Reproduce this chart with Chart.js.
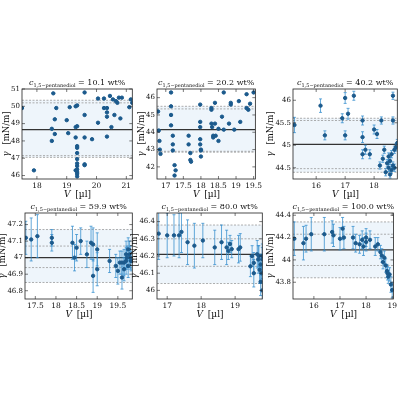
<!DOCTYPE html><html><head><meta charset="utf-8">
<script src="https://cdn.jsdelivr.net/npm/chart.js@4"></script>
<style>body{margin:0;background:#fff;width:400px;height:400px;position:relative;overflow:hidden}canvas{position:absolute}</style>
</head><body>
<script>
const titles=["10.1 wt%","20.2 wt%","40.2 wt%","59.9 wt%","80.0 wt%","100.0 wt%"];
const p1x=[17.5,17.9,18.5,18.5,18.55,18.6,18.6,18.65,19.0,19.05,19.1,19.3,19.35,19.3,19.35,19.3,19.35,19.35,19.35,19.35,19.35,19.35,19.35,19.35,19.35,19.35,19.3,19.6,19.6,19.6,19.6,19.6,19.85,20.05,20.05,20.25,20.25,20.35,20.35,20.35,20.35,20.45,20.5,20.55,20.6,20.65,20.7,20.75,20.8,20.85,21.1,21.15,21.2];
const p1y=[49.9,46.3,48.7,48.0,50.75,48.4,49.25,49.9,49.2,48.45,49.95,50.0,50.05,48.8,48.85,48.2,47.7,47.6,47.3,46.95,46.7,46.55,46.35,46.2,46.1,45.95,46.3,50.8,49.5,48.2,46.65,46.6,48.1,49.05,50.45,50.45,49.9,49.65,49.4,49.9,48.25,50.6,48.8,50.4,49.5,50.3,50.2,50.5,49.3,50.5,49.95,50.4,50.2];
const p2x=[16.78,16.8,16.82,16.83,16.85,17.15,17.15,17.15,17.15,17.2,17.2,17.2,17.25,17.28,17.25,17.65,17.65,17.7,17.7,17.72,17.98,17.98,17.98,17.98,17.98,18.0,18.0,18.0,18.3,18.3,18.3,18.32,18.35,18.35,18.4,18.4,18.42,18.5,18.5,18.6,18.65,18.65,18.8,18.85,18.85,18.95,19.08,19.12,19.3,19.3,19.35,19.4,19.5];
const p2y=[45.2,44.1,43.5,43.0,42.75,46.3,45.5,45.0,44.4,43.8,43.3,42.95,42.1,41.8,41.5,43.8,43.3,42.8,42.4,42.3,45.6,44.6,44.3,43.6,43.3,43.0,42.6,42.95,45.4,45.3,44.5,44.3,43.8,43.7,45.7,44.5,43.8,43.5,44.2,44.9,46.3,44.15,44.5,45.7,45.6,44.15,45.8,44.6,46.2,45.4,45.3,45.65,46.3];
const p3x=[15.25,16.15,16.3,16.9,17.0,17.0,17.1,17.3,17.6,17.6,17.6,17.7,17.85,18.0,18.1,18.2,18.25,18.3,18.35,18.4,18.45,18.5,18.5,18.55,18.55,18.6,18.6,18.65,18.65,18.65,18.7,18.7,18.75,18.8];
const p3y=[45.45,45.88,45.22,45.6,46.05,45.22,45.7,46.1,45.55,45.18,44.8,44.9,44.8,45.35,45.25,44.55,45.55,44.7,44.9,44.4,44.6,44.75,44.5,44.35,44.65,44.45,44.8,44.55,46.1,45.55,44.9,44.5,44.95,45.05];
const p3e=[0.17,0.15,0.1,0.1,0.12,0.1,0.12,0.1,0.1,0.12,0.1,0.1,0.1,0.1,0.1,0.08,0.08,0.08,0.08,0.08,0.08,0.08,0.08,0.08,0.08,0.08,0.08,0.08,0.08,0.08,0.08,0.08,0.08,0.08];
const p4x=[17.27,17.4,17.55,17.9,17.9,18.4,18.45,18.5,18.6,18.75,18.85,18.9,18.9,19.0,19.0,19.3,19.45,19.5,19.55,19.6,19.6,19.65,19.65,19.7,19.7,19.72,19.75,19.75,19.78,19.8,19.82];
const p4y=[47.12,47.11,47.13,47.12,47.09,47.09,47.0,47.06,47.1,47.02,47.09,46.89,47.08,47.05,46.93,46.98,46.95,46.92,46.97,46.88,46.97,46.97,46.93,46.98,47.02,47.0,47.05,46.95,47.02,47.0,46.98];
const p4e=[0.1,0.13,0.13,0.05,0.05,0.1,0.08,0.08,0.08,0.08,0.1,0.1,0.1,0.1,0.1,0.07,0.07,0.08,0.07,0.07,0.07,0.08,0.07,0.08,0.08,0.07,0.07,0.07,0.08,0.07,0.06];
const p5x=[16.75,17.0,17.2,17.35,17.42,17.6,17.8,18.05,18.4,18.6,18.75,18.8,18.85,18.9,19.1,19.15,19.45,19.5,19.55,19.55,19.65,19.68,19.7,19.72,19.75,19.75,19.78,19.8,19.8,19.8];
const p5y=[46.33,46.32,46.32,46.32,46.34,46.28,46.26,46.29,46.25,46.28,46.25,46.23,46.27,46.24,46.24,46.25,46.14,46.2,46.16,46.1,46.21,46.18,46.2,46.12,46.15,46.05,46.1,46.0,46.18,46.2];
const p5e=[0.15,0.13,0.12,0.13,0.12,0.13,0.13,0.1,0.1,0.1,0.1,0.05,0.05,0.05,0.08,0.08,0.06,0.06,0.06,0.08,0.08,0.08,0.06,0.08,0.06,0.08,0.06,0.07,0.07,0.07];
const p6x=[15.25,15.6,15.7,15.9,16.4,16.7,16.75,17.0,17.1,17.15,17.5,17.6,17.75,17.85,17.9,18.0,18.0,18.15,18.35,18.45,18.55,18.6,18.65,18.7,18.75,18.8,18.82,18.85,18.9,18.95,19.0];
const p6y=[44.19,44.15,44.19,44.23,44.23,44.25,44.22,44.19,44.28,44.2,44.2,44.15,44.14,44.18,44.12,44.2,44.16,44.18,44.12,44.14,44.07,44.04,43.98,44.02,43.95,43.9,43.88,43.85,43.87,43.78,43.73];
const p6e=[0.15,0.15,0.12,0.15,0.15,0.1,0.1,0.1,0.1,0.1,0.1,0.08,0.08,0.08,0.08,0.08,0.08,0.08,0.08,0.06,0.06,0.06,0.06,0.06,0.06,0.06,0.06,0.06,0.06,0.07,0.07];
const means=[48.65,44.15,45.02,47.0,46.21,44.09];
const dashes=[[50.2,50.35,47.05,47.15],[45.35,45.5,42.85,42.9],[45.6,45.55,44.48,44.4],[47.17,47.07,46.94,46.85],[46.38,46.3,46.14,46.04],[44.34,44.23,43.95,43.84]];
const xr=[[17.5,21.2],[16.75,19.55],[15.2,18.8],[17.25,19.85],[16.7,19.8],[15.2,19.05]];
const yr=[[45.8,51],[41.3,46.5],[44.25,46.25],[46.75,47.27],[45.95,46.45],[43.65,44.42]];
const xs=[1,0.5,1,0.5,1,1], ys=[1,1,0.5,0.1,0.1,0.2];
const boxes=[[22,89,132,179],[157,89,262,179],[293,89,397,179],[25,213,132,299],[157,213,262,299],[293,213,397,299]];
const P=[[p1x,p1y,null],[p2x,p2y,null],[p3x,p3y,p3e],[p4x,p4y,p4e],[p5x,p5y,p5e],[p6x,p6y,p6e]];
const F='"DejaVu Serif"';
const fmt=v=>String(+v.toFixed(2));
function mkTicks(s,step){const out=[];for(let v=Math.ceil(s.min/step-1e-9)*step;v<=s.max+1e-9;v+=step)out.push({value:+v.toFixed(4)});s.ticks=out;}
P.forEach((p,i)=>{
 const [l,t,r,b]=boxes[i]; const YW=30,TH=16,XH=24;
 const cv=document.createElement('canvas');
 const W=r-l+YW+3,H=b-t+TH+XH;
 cv.width=W;cv.height=H;
 cv.style.left=(l-YW)+'px';cv.style.top=(t-TH)+'px';
 document.body.appendChild(cv);
 const data=p[0].map((x,k)=>({x,y:p[1][k],e:p[2]?p[2][k]:0.04}));
 const dl=dashes[i];
 const plug={id:'ex',beforeDatasetsDraw(c){const g=c.ctx,a=c.chartArea,X=c.scales.x,Y=c.scales.y;
   g.save();g.beginPath();g.rect(a.left,a.top,a.width,a.height);g.clip();
   const hi=Math.max(...dl),lo=Math.min(...dl);
   g.fillStyle='rgba(205,225,243,0.35)';g.fillRect(a.left,Y.getPixelForValue(hi),a.width,Y.getPixelForValue(lo)-Y.getPixelForValue(hi));
   g.setLineDash([2,1.5]);g.strokeStyle='#999';g.lineWidth=0.8;
   dl.forEach(v=>{const y=Y.getPixelForValue(v);g.beginPath();g.moveTo(a.left,y);g.lineTo(a.right,y);g.stroke();});
   g.setLineDash([]);g.strokeStyle='#333';g.lineWidth=1.2;const ym=Y.getPixelForValue(means[i]);g.beginPath();g.moveTo(a.left,ym);g.lineTo(a.right,ym);g.stroke();
   g.strokeStyle='rgba(50,140,205,0.85)';g.lineWidth=0.9;
   data.forEach(d=>{const x=X.getPixelForValue(d.x),y1=Y.getPixelForValue(d.y-d.e),y2=Y.getPixelForValue(d.y+d.e);g.beginPath();g.moveTo(x,y1);g.lineTo(x,y2);g.moveTo(x-1.5,y1);g.lineTo(x+1.5,y1);g.moveTo(x-1.5,y2);g.lineTo(x+1.5,y2);g.stroke();});
   g.restore();},
  afterDraw(c){const g=c.ctx,a=c.chartArea,X=c.scales.x,Y=c.scales.y;g.save();g.strokeStyle='#222';g.lineWidth=0.8;g.strokeRect(a.left,a.top,a.width,a.height);
   g.lineWidth=0.6;g.beginPath();
   X.ticks.forEach(t=>{const x=X.getPixelForValue(t.value);g.moveTo(x,a.bottom);g.lineTo(x,a.bottom-3);g.moveTo(x,a.top);g.lineTo(x,a.top+3);});
   Y.ticks.forEach(t=>{const y=Y.getPixelForValue(t.value);g.moveTo(a.left,y);g.lineTo(a.left+3,y);g.moveTo(a.right,y);g.lineTo(a.right-3,y);});
   g.stroke();
   g.fillStyle='#111';g.textBaseline='alphabetic';
   const cx=(a.left+a.right)/2,ty=a.top-4;
   const s1='c',s2='1,5−pentanediol',s3=' = '+titles[i];
   g.font='italic 8px '+F;const w1=g.measureText(s1).width;g.font='5px '+F;const w2=g.measureText(s2).width;g.font='8px '+F;const w3=g.measureText(s3).width;
   let x0=cx-(w1+w2+w3)/2;g.textAlign='left';
   g.font='italic 8px '+F;g.fillText(s1,x0,ty);x0+=w1;g.font='5px '+F;g.fillText(s2,x0,ty+1.5);x0+=w2;g.font='8px '+F;g.fillText(s3,x0,ty);
   g.textAlign='center';g.font='italic 9px '+F;g.fillText('V',cx-10,a.bottom+18);g.font='9px '+F;g.fillText('[µl]',cx+6,a.bottom+18);
   g.font='7px '+F;const lw=Math.max(...Y.ticks.map(t=>g.measureText(fmt(t.value)).width));
   g.translate(a.left-lw-4,(a.top+a.bottom)/2);g.rotate(-Math.PI/2);g.font='italic 8.5px '+F;g.fillText('γ',-20,0);g.font='8.5px '+F;g.fillText('[mN/m]',6,0);
   g.restore();}};
 const grid={display:false,drawTicks:false,tickLength:0};
 new Chart(cv,{type:'scatter',data:{datasets:[{data,backgroundColor:'#1c5a8c',borderColor:'#1c5a8c',pointRadius:1.7,pointHoverRadius:1.7}]},
  options:{responsive:false,animation:false,layout:{padding:{top:TH,right:2,left:0,bottom:0}},
   plugins:{legend:{display:false},tooltip:{enabled:false}},
   scales:{x:{type:'linear',min:xr[i][0],max:xr[i][1],grid,border:{display:false},afterFit(s){s.height=XH;},
     afterBuildTicks(s){mkTicks(s,xs[i]);},
     ticks:{font:{family:F,size:7.5},color:'#111',padding:3,maxRotation:0,autoSkip:false,callback:fmt}},
    y:{min:yr[i][0],max:yr[i][1],grid,border:{display:false},afterFit(s){s.width=YW;},
     afterBuildTicks(s){mkTicks(s,ys[i]);},
     ticks:{font:{family:F,size:7},color:'#111',padding:2,autoSkip:false,callback:fmt}}}},plugins:[plug]});
});
</script></body></html>
